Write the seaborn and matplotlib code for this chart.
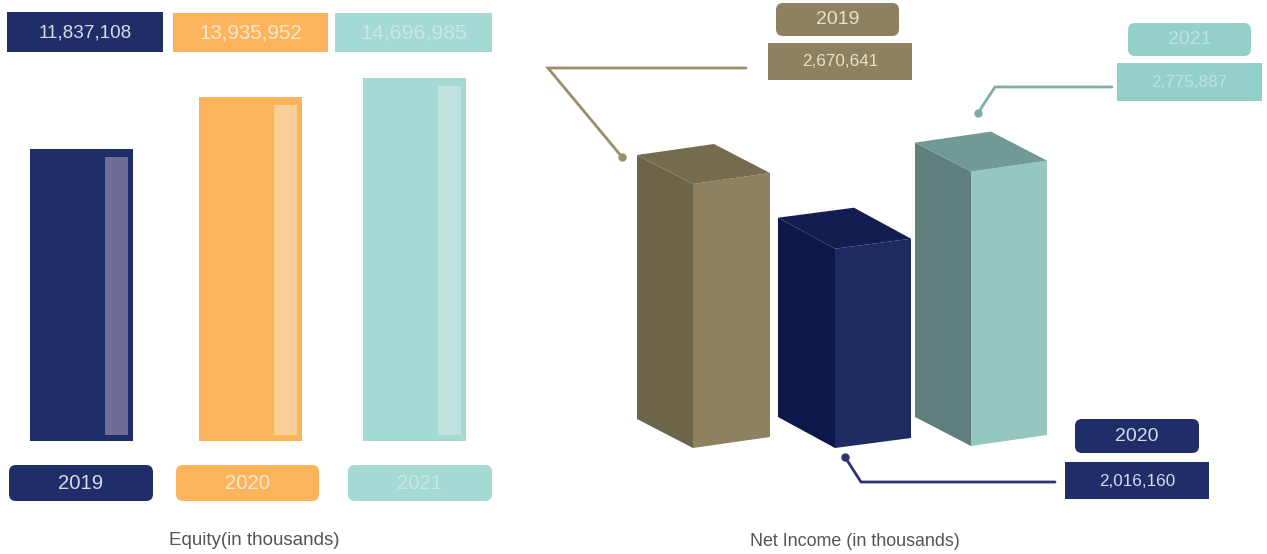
import matplotlib
matplotlib.use("Agg")
import matplotlib.pyplot as plt
from matplotlib.patches import FancyBboxPatch, Rectangle
import pandas as pd
import seaborn as sns

# Report figures
years = ["2019", "2020", "2021"]
equity = [11837108, 13935952, 14696985]
net_income = [2670641, 2016160, 2775887]

# Palettes
equity_colors = ["#1f2d68", "#fbb45c", "#a5d9d3"]
equity_strip = ["#6f6c96", "#f9cf98", "#bfe2dd"]
equity_text = ["#d8dbe8", "#fde8cf", "#c8e8e4"]
income_front = ["#8d8160", "#1e2b63", "#95c6c0"]
income_side = ["#6c654a", "#0e1749", "#5f7f7c"]
income_top = ["#756c4f", "#131d52", "#719a96"]
income_text = ["#e6e0cf", "#d8dbe8", "#c0e3df"]
income_line = ["#9a8d68", "#2e3170", "#7eaeaa"]

W, H = 1267, 554
sns.set_theme(style="white", rc={"figure.facecolor": "white"})
plt.rcParams["font.family"] = ["Liberation Sans", "DejaVu Sans"]
fig = plt.figure(figsize=(W / 100, H / 100), dpi=100)

# Equity panel: flat bars on a zero-based axis
EQ_BASE = 441
EQ_PER_PX = 1 / 24.7e-6
eq_top_val = 16000000
eq_height_px = eq_top_val / EQ_PER_PX
ax_eq = fig.add_axes([0, (H - EQ_BASE) / H, 520 / W, eq_height_px / H])
slots = [81.4, 250.9, 414.4]
df_eq = pd.DataFrame({"slot": slots, "year": years, "equity": equity})
sns.barplot(data=df_eq, x="slot", y="equity", hue="year", palette=equity_colors,
            native_scale=True, width=103 / 163.5, dodge=False, legend=False,
            saturation=1, linewidth=0, ax=ax_eq)
ax_eq.bar([s + 34.6 for s in slots],
          [v - 14 * EQ_PER_PX for v in equity],
          bottom=6 * EQ_PER_PX, width=23, color=equity_strip, linewidth=0)
ax_eq.set_xlim(0, 520)
ax_eq.set_ylim(0, eq_top_val)
ax_eq.set_axis_off()

# Net income panel: extruded bars, heights proportional to value
NI_BASE = 448
NI_PX_PER_UNIT = 98.85e-6
ni_top_val = 3800000
ni_height_px = ni_top_val * NI_PX_PER_UNIT
ax_ni = fig.add_axes([600 / W, (H - NI_BASE) / H, 480 / W, ni_height_px / H])
ax_ni.set_xlim(600, 1080)
ax_ni.set_ylim(0, ni_top_val)
ax_ni.set_axis_off()

footprints = [
    ((637, 419), (693, 448), (770, 437)),
    ((778, 417), (835, 448), (911, 438)),
    ((915, 417), (971, 446), (1047, 435)),
]


def lift(point, value):
    """Footprint point in pixels, raised by value along the y axis."""
    x, y = point
    return x, (NI_BASE - y) / NI_PX_PER_UNIT + value


for i, value in enumerate(net_income):
    left, front, right = footprints[i]
    back = (left[0] + right[0] - front[0], left[1] + right[1] - front[1])
    ax_ni.fill(*zip(lift(left, 0), lift(front, 0), lift(front, value), lift(left, value)),
               color=income_side[i], lw=0)
    ax_ni.fill(*zip(lift(front, 0), lift(right, 0), lift(right, value), lift(front, value)),
               color=income_front[i], lw=0)
    ax_ni.fill(*zip(lift(left, value), lift(front, value), lift(right, value), lift(back, value)),
               color=income_top[i], lw=0)

# Overlay in pixel units for labels, badges and leader lines
ov = fig.add_axes([0, 0, 1, 1], facecolor="none")
ov.set_xlim(0, W)
ov.set_ylim(H, 0)
ov.set_axis_off()


def box(x0, y0, x1, y1, color, text, tcolor, size, rounded=False):
    if rounded:
        ov.add_patch(FancyBboxPatch((x0, y0), x1 - x0, y1 - y0, facecolor=color, lw=0,
                                    boxstyle="round,pad=0,rounding_size=7"))
    else:
        ov.add_patch(Rectangle((x0, y0), x1 - x0, y1 - y0, facecolor=color, lw=0))
    ov.text((x0 + x1) / 2, (y0 + y1) / 2 + 0.5, text, color=tcolor, fontsize=size,
            ha="center", va="center")


eq_value_boxes = [(7, 12, 163, 52), (173, 13, 328, 52), (335, 13, 492, 52)]
eq_value_sizes = [13.6, 14.8, 15.4]
eq_year_boxes = [(9, 465, 153, 501), (176, 465, 319, 501), (348, 465, 492, 501)]
for i, year in enumerate(years):
    box(*eq_value_boxes[i], equity_colors[i], f"{equity[i]:,}", equity_text[i], eq_value_sizes[i])
    box(*eq_year_boxes[i], equity_colors[i], year, equity_text[i], 14.6, rounded=True)

ni_year_boxes = [(776, 3, 899, 36), (1075, 419, 1199, 453), (1128, 23, 1251, 56)]
ni_value_boxes = [(768, 43, 912, 80), (1065, 462, 1209, 499), (1117, 63, 1262, 101)]
ni_box_colors = ["#8d8160", "#1f2d68", "#93d0ca"]
ni_leaders = [
    [(746, 68), (548, 68), (622, 157)],
    [(1055, 482), (861, 482), (845, 457)],
    [(1112, 87), (995, 87), (978, 113)],
]
for i, year in enumerate(years):
    box(*ni_year_boxes[i], ni_box_colors[i], year, income_text[i], 14.0, rounded=True)
    box(*ni_value_boxes[i], ni_box_colors[i], f"{net_income[i]:,}", income_text[i], 12.3)
    xs, ys = zip(*ni_leaders[i])
    ov.plot(xs, ys, color=income_line[i], lw=2.0, solid_joinstyle="miter")
    ov.plot(xs[-1], ys[-1], "o", ms=5, mfc=income_line[i], mec=income_line[i])

ov.text(254.5, 540.5, "Equity(in thousands)", color="#555555", fontsize=13.5, ha="center", va="center")
ov.text(855, 541, "Net Income (in thousands)", color="#555555", fontsize=12.9, ha="center", va="center")

fig.savefig("out.png", dpi=100, facecolor="white")
